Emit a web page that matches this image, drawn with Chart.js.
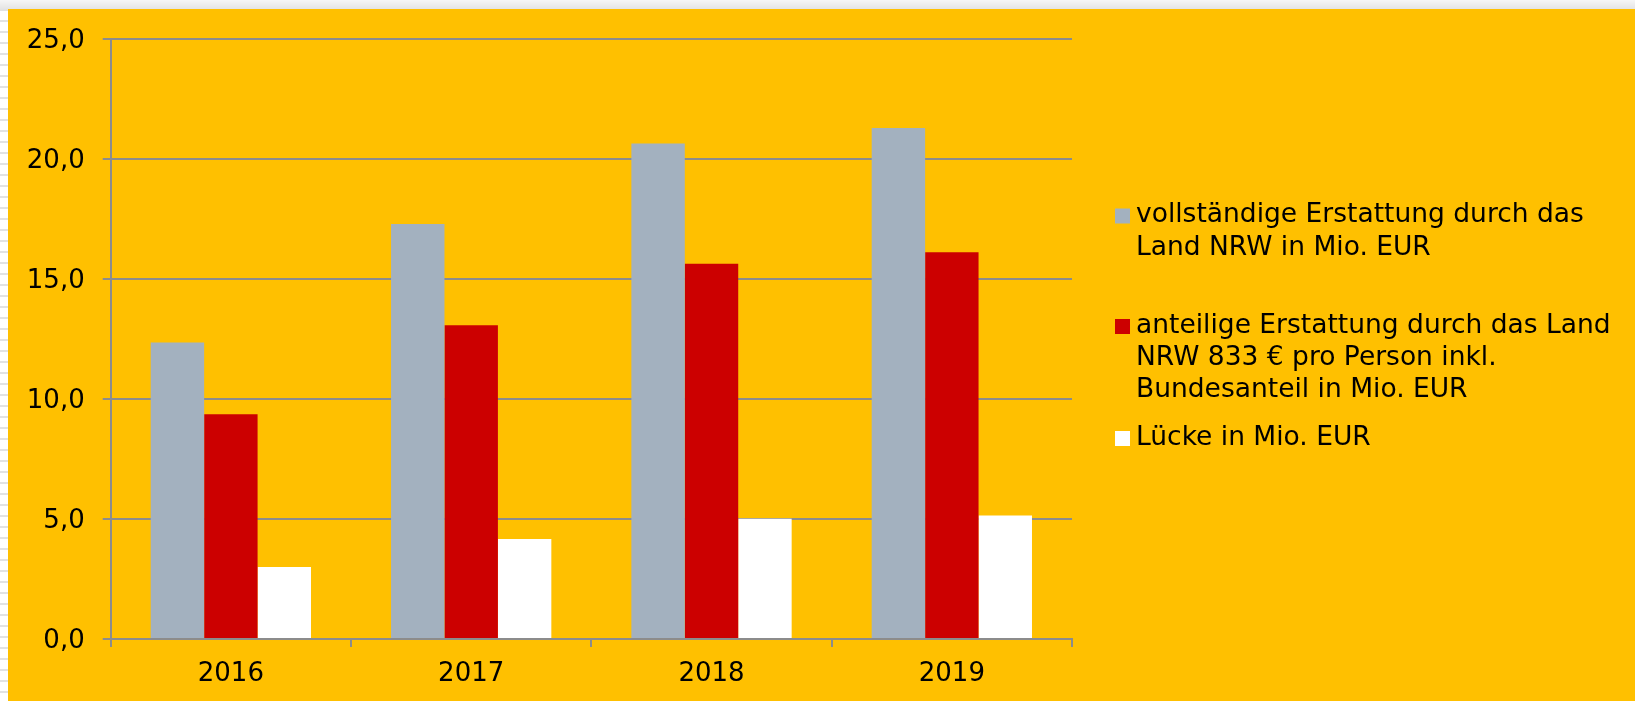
<!DOCTYPE html>
<html>
<head>
<meta charset="utf-8">
<script src="https://cdn.jsdelivr.net/npm/chart.js@4/dist/chart.umd.min.js"></script>
<style>
  html, body { margin: 0; padding: 0; width: 1635px; height: 701px; overflow: hidden; }
  body { background: repeating-linear-gradient(to bottom, #ffffff 0px, #ffffff 9px, #e2e2e2 9px, #e2e2e2 11px); }
  #topstrip { position: absolute; left: 0; top: 0; width: 1635px; height: 9px; background: linear-gradient(#f6f6f6, #e4e4e4); }
  #wrap { position: absolute; left: 8px; top: 9px; width: 1627px; height: 692px; background: #FFC000; }
  canvas { display: block; }
</style>
</head>
<body>
<div id="topstrip"></div>
<div id="wrap"><canvas id="myChart" width="1627" height="692"></canvas></div>
<script>
// values (Mio. EUR)
const years = ['2016', '2017', '2018', '2019'];
const fullRefund = [12.35, 17.29, 20.65, 21.29];
const partialRefund = [9.36, 13.07, 15.64, 16.11];
const gapValues = [3.0, 4.17, 5.01, 5.15];

const seriesNames = [
    ['vollständige Erstattung durch das', 'Land NRW in Mio. EUR'],
    ['anteilige Erstattung durch das Land', 'NRW 833 € pro Person inkl.', 'Bundesanteil in Mio. EUR'],
    ['Lücke in Mio. EUR']
];
const seriesColors = ['#A3B1BF', '#CC0000', '#FFFFFF'];
const yMin = 0, yMax = 25, yStep = 5;

const FONT = 'Verdana, "DejaVu Sans", sans-serif';
const GRID = '#8c8c8c';

// legend drawn by hand so the labels can wrap like in the original
const sideLegend = {
    id: 'sideLegend',
    afterDraw(chart) {
        const ctx = chart.ctx;
        const firstLine = [206.5, 317, 429];
        const lineGap = 32.3;
        ctx.save();
        ctx.font = '26.5px ' + FONT;
        ctx.textBaseline = 'middle';
        ctx.textAlign = 'left';
        chart.data.datasets.forEach((ds, i) => {
            const y = firstLine[i];
            ctx.fillStyle = ds.backgroundColor;
            ctx.fillRect(1107, y - 7, 15, 15);
            ctx.fillStyle = '#000';
            ds.label.forEach((line, j) => {
                ctx.fillText(line, 1128, y + j * lineGap);
            });
        });
        ctx.restore();
    }
};

const ctx = document.getElementById('myChart').getContext('2d');
new Chart(ctx, {
    type: 'bar',
    data: {
        labels: years,
        datasets: [fullRefund, partialRefund, gapValues].map((vals, i) => ({
            label: seriesNames[i],
            data: vals,
            backgroundColor: seriesColors[i],
            borderWidth: 0,
            categoryPercentage: 0.667,
            barPercentage: 1.0
        }))
    },
    options: {
        responsive: false,
        animation: false,
        layout: { padding: { left: 0, top: 30, right: 563, bottom: 0 } },
        plugins: {
            legend: { display: false },
            tooltip: { enabled: false }
        },
        scales: {
            x: {
                afterFit: (scale) => { scale.height = 62; },
                grid: {
                    drawOnChartArea: false,
                    drawTicks: true,
                    tickLength: 8,
                    color: GRID,
                    lineWidth: 2
                },
                border: { color: GRID, width: 2 },
                ticks: {
                    color: '#000',
                    padding: 12,
                    font: { family: FONT, size: 26 }
                }
            },
            y: {
                min: yMin,
                max: yMax,
                afterFit: (scale) => {
                    scale.width = 102.7;
                    scale.paddingTop = 0;
                    scale.paddingBottom = 0;
                },
                grid: {
                    color: GRID,
                    lineWidth: 2,
                    drawTicks: true,
                    tickLength: 8
                },
                border: { color: GRID, width: 2 },
                ticks: {
                    stepSize: yStep,
                    color: '#000',
                    padding: 18,
                    labelOffset: 2,
                    font: { family: FONT, size: 26 },
                    callback: (v) => v.toFixed(1).replace('.', ',')
                }
            }
        }
    },
    plugins: [sideLegend]
});
</script>
</body>
</html>
